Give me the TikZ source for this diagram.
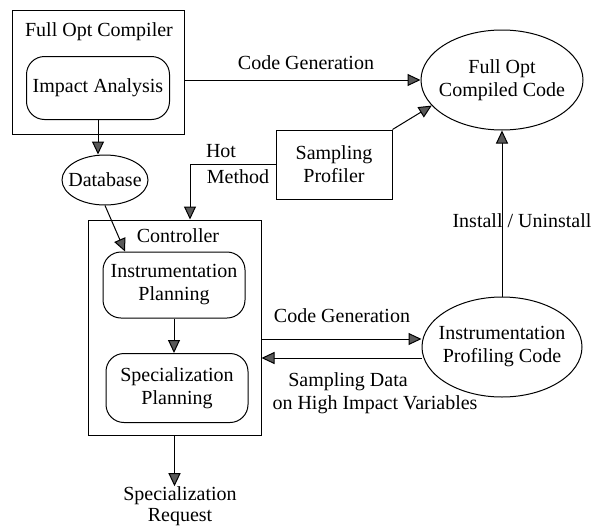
\documentclass[tikz,border=0pt]{standalone}
\usepackage{fontspec}
\setmainfont{Liberation Serif}
\usetikzlibrary{arrows.meta, positioning, shapes.geometric}

\begin{document}
\begin{tikzpicture}[x=1pt, y=-1pt,
		font=\fontsize{20}{23}\selectfont,
		every node/.style={inner sep=0pt},
		box/.style={draw, line width=1pt, align=center},
		rbox/.style={draw, line width=1pt, rounded corners=18pt, align=center},
		oval/.style={draw, line width=1pt, ellipse, inner sep=-20pt, align=center},
		flow/.style={draw, line width=1pt, -{Triangle[length=13pt, width=12pt, fill=black!65]}}]
		
		\useasboundingbox (0,0) rectangle (594,525);
		
		\node[box, minimum width=172, minimum height=124] (comp) at (98,72) {};
		\node (complbl) at (99,32) {Full Opt Compiler};
		\node[rbox, minimum width=143, minimum height=63] (impact) at (98,88) {Impact Analysis};
		\node[oval, minimum width=86, minimum height=50] (db) at (105,180) {Database};
		
		\node[box, minimum width=116, minimum height=69] (prof) at (334,164.5) {Sampling\\Profiler};
		\node[oval, minimum width=162, minimum height=100] (fullcode) at (502,80) {Full Opt\\Compiled Code};
		\node[oval, minimum width=160, minimum height=100] (ipc) at (502,347) {Instrumentation\\Profiling Code};
		
		\node[box, minimum width=173, minimum height=215] (ctrl) at (174.5,327.5) {};
		\node (ctrllbl) at (178,236) {Controller};
		\node[rbox, minimum width=142, minimum height=66] (instr) at (174,285) {Instrumentation\\Planning};
		\node[rbox, minimum width=142, minimum height=69] (spec) at (177,388) {Specialization\\Planning};
		\node[align=center] (req) at (180,506) {Specialization\\[-2pt]Request};
		
		% labels
		\node (cgtop) at (306,63) {Code Generation};
		\node (hot) at (221,151) {Hot};
		\node (meth) at (238,177) {Method};
		\node (inst) at (522,221) {Install / Uninstall};
		\node (cglow) at (342,316) {Code Generation};
		\node (sdata) at (348,382) {Sampling Data};
		\node (hiv) at (375,405) {on High Impact Variables};
		
		\coordinate (dbin) at ([xshift=-49pt]instr.north);
		\coordinate (hm) at ([xshift=15.5pt]ctrl.north);
		\coordinate (cg) at ([yshift=-11.5pt]ctrl.east);
		\coordinate (sd) at ([yshift=-30.5pt]ctrl.east);
		
		\draw[flow] (comp.east |- fullcode.west) -- (fullcode.west);
		\draw[flow] (impact.south) -- (impact.south |- db.north);
		\draw[flow] (db.south) -- (dbin);
		\draw[flow] (prof.west) -| (hm);
		\draw[flow] (prof.north east) -- (fullcode.200);
		\draw[flow] (ipc.north) -- (fullcode.south);
		\draw[flow] (instr.south) -- (instr.south |- spec.north);
		\draw[flow] (ctrl.south) -- (ctrl.south |- req.north);
		\draw[flow] (cg) -- (cg -| ipc.west);
		\draw[flow] (sd -| ipc.west) -- (sd);
		
	\end{tikzpicture}
\end{document}
